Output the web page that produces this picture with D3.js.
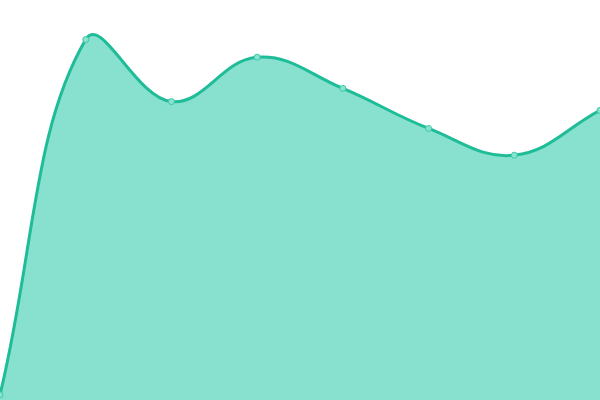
<!DOCTYPE html>
<html>
<head>
<meta charset="utf-8">
<script src="https://cdn.jsdelivr.net/npm/d3@7.9.0/dist/d3.min.js"></script>
<style>
  html, body { margin: 0; padding: 0; background: #fff; }
  #chart { width: 600px; height: 400px; }
</style>
</head>
<body>
<div id="chart"></div>
<script>
// Data (y domain 0-100)
const labels = ['a', 'b', 'c', 'd', 'e', 'f', 'g', 'h'];
const values = [1.3, 90.1, 74.6, 85.7, 77.9, 67.9, 61.2, 72.4];

const lineColor = '#1fbc98';
const fillColor = '#88e0cf';
const dotFill = '#8ae3d0';

const width = 600;
const height = 400;

// spline with distance-weighted tangents (tension 0.4)
class TensionCurve {
  constructor(context, t) {
    this._context = context;
    this._t = t;
  }
  areaStart() { this._line = 0; }
  areaEnd() { this._line = NaN; }
  lineStart() { this._x = []; this._y = []; }
  point(x, y) { this._x.push(+x); this._y.push(+y); }
  lineEnd() {
    const x = this._x, y = this._y, n = x.length, t = this._t;
    if (n) {
      this._line ? this._context.lineTo(x[0], y[0]) : this._context.moveTo(x[0], y[0]);
      const cpIn = [], cpOut = [];
      for (let i = 0; i < n; i++) {
        const p = i > 0 ? i - 1 : i;
        const q = i < n - 1 ? i + 1 : i;
        const d01 = Math.hypot(x[i] - x[p], y[i] - y[p]);
        const d12 = Math.hypot(x[q] - x[i], y[q] - y[i]);
        let s01 = d01 / (d01 + d12);
        let s12 = d12 / (d01 + d12);
        if (isNaN(s01)) s01 = 0;
        if (isNaN(s12)) s12 = 0;
        const fa = t * s01, fb = t * s12;
        cpIn.push([x[i] - fa * (x[q] - x[p]), y[i] - fa * (y[q] - y[p])]);
        cpOut.push([x[i] + fb * (x[q] - x[p]), y[i] + fb * (y[q] - y[p])]);
      }
      for (let i = 0; i < n - 1; i++) {
        this._context.bezierCurveTo(
          cpOut[i][0], cpOut[i][1],
          cpIn[i + 1][0], cpIn[i + 1][1],
          x[i + 1], y[i + 1]
        );
      }
    }
    if (this._line || (this._line !== 0 && n === 1)) this._context.closePath();
    this._line = 1 - this._line;
    this._x = this._y = null;
  }
}
const curve = (context) => new TensionCurve(context, 0.4);

const svg = d3.select('#chart')
  .append('svg')
  .attr('width', width)
  .attr('height', height);

const xScale = d3.scalePoint()
  .domain(labels)
  .range([0, width]);

const yScale = d3.scaleLinear()
  .domain([0, 100])
  .range([height, 0]);

const data = labels.map((l, i) => ({ label: l, value: values[i] }));

const area = d3.area()
  .x((d) => xScale(d.label))
  .y0(height)
  .y1((d) => yScale(d.value))
  .curve(curve);

const line = d3.line()
  .x((d) => xScale(d.label))
  .y((d) => yScale(d.value))
  .curve(curve);

svg.append('path')
  .datum(data)
  .attr('d', area)
  .attr('fill', fillColor);

svg.append('path')
  .datum(data)
  .attr('d', line)
  .attr('fill', 'none')
  .attr('stroke', lineColor)
  .attr('stroke-width', 3);

svg.selectAll('circle.dot')
  .data(data)
  .enter()
  .append('circle')
  .attr('class', 'dot')
  .attr('cx', (d) => xScale(d.label))
  .attr('cy', (d) => yScale(d.value))
  .attr('r', 3)
  .attr('fill', dotFill)
  .attr('stroke', '#3cc9a6')
  .attr('stroke-width', 1);
</script>
</body>
</html>
